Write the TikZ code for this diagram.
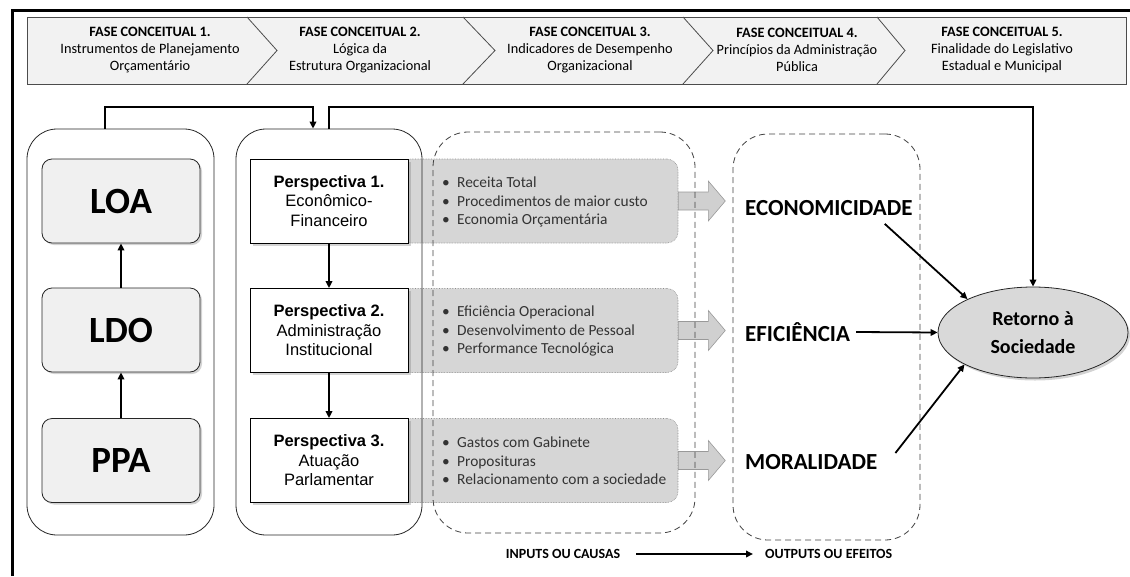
\documentclass[tikz,border=0pt]{standalone}
\usepackage{fontspec}
\setmainfont{Carlito}
\newfontfamily\arialf{Liberation Sans}
\usetikzlibrary{shadows,arrows.meta,shapes.geometric,calc}
\definecolor{hdrgray}{RGB}{242,242,242}
\definecolor{rowgray}{RGB}{214,214,214}
\definecolor{boxgray}{RGB}{240,240,240}
\definecolor{ellgray}{RGB}{217,217,217}
\definecolor{arrgray}{RGB}{208,208,208}
\begin{document}
\begin{tikzpicture}[x=1pt,y=-1pt,
  hdrtext/.style={align=center,font=\fontsize{14.3}{17}\selectfont,inner sep=0},
  lawbox/.style={draw=black!85,line width=0.8pt,rounded corners=10pt,fill=boxgray,minimum width=158pt,minimum height=84pt,
     font=\fontsize{37}{40}\selectfont\bfseries,drop shadow={shadow xshift=2pt,shadow yshift=-2pt,opacity=0.35}},
  perspbox/.style={draw=black,line width=0.8pt,fill=white,minimum width=158pt,minimum height=84pt,align=center,
     font=\arialf\fontsize{16.5}{19.5}\selectfont,drop shadow={shadow xshift=2.5pt,shadow yshift=-2.5pt,opacity=0.35}},
  container/.style={draw=black!85,line width=0.8pt,rounded corners=30pt},
  dashcont/.style={draw=black!75,line width=0.8pt,dash pattern=on 6pt off 4pt,rounded corners=35pt},
  rowbox/.style={draw=black!45,densely dotted,line width=0.6pt,fill=rowgray,rounded corners=11pt,minimum width=278pt,minimum height=84pt},
  rowtext/.style={anchor=west,align=left,inner sep=0,text=black!80,font=\fontsize{15.4}{18.3}\selectfont},
  blockarrow/.style={fill=arrgray,draw=black!40,line width=0.6pt},
  outlabel/.style={anchor=west,inner sep=0,font=\fontsize{23}{25}\selectfont\bfseries},
  conn/.style={draw=black,line width=1.8pt,-{Triangle[length=7pt,width=6.5pt]}},
  smallbold/.style={inner sep=0,font=\fontsize{14}{16}\selectfont\bfseries}
]
\useasboundingbox (0,0) rectangle (1130,576);
% outer frame (top and left edges)
\draw[line width=3pt] (12,576) -- (12,10) -- (1130,10);

% header band
\node[draw=black!70,line width=0.8pt,fill=hdrgray,minimum width=1099pt,minimum height=67pt,inner sep=0] (band) at (576.5,50.5) {};
\foreach \xa/\xb in {247/277,463/495,683/713,877/905}{
  \draw[black!70,line width=0.8pt] (\xa,17) -- (\xb,50.5) -- (\xa,84);
}
\node[hdrtext] (h1) at (150,50) {\textbf{FASE CONCEITUAL 1.}\\Instrumentos de Planejamento\\Orçamentário};
\node[hdrtext] (h2) at (360,50) {\textbf{FASE CONCEITUAL 2.}\\Lógica da\\Estrutura Organizacional};
\node[hdrtext] (h3) at (590,50) {\textbf{FASE CONCEITUAL 3.}\\Indicadores de Desempenho\\Organizacional};
\node[hdrtext] (h4) at (797,50) {\textbf{FASE CONCEITUAL 4.}\\Princípios da Administração\\Pública};
\node[hdrtext] (h5) at (1002,50) {\textbf{FASE CONCEITUAL 5.}\\Finalidade do Legislativo\\Estadual e Municipal};

% indicator rows (behind)
\node[rowbox] (g1) at (539,201) {};
\node[rowbox] (g2) at (539,330.5) {};
\node[rowbox] (g3) at (539,460.5) {};
\foreach \g in {g1,g2,g3}{
  \filldraw[blockarrow] ($(\g.east)+(0,-9)$) -- ++(30,0) -- ++(0,-11) -- ++(17,20) -- ++(-17,20) -- ++(0,-11) -- ++(-30,0) -- cycle;
}
\node[rowtext] (t1) at (442,202) {\makebox[15pt][l]{•}Receita Total\\\makebox[15pt][l]{•}Procedimentos de maior custo\\\makebox[15pt][l]{•}Economia Orçamentária};
\node[rowtext] (t2) at (442,331) {\makebox[15pt][l]{•}Eficiência Operacional\\\makebox[15pt][l]{•}Desenvolvimento de Pessoal\\\makebox[15pt][l]{•}Performance Tecnológica};
\node[rowtext] (t3) at (442,461) {\makebox[15pt][l]{•}Gastos com Gabinete\\\makebox[15pt][l]{•}Proposituras\\\makebox[15pt][l]{•}Relacionamento com a sociedade};

% containers
\node[container,minimum width=187pt,minimum height=406pt] (c1) at (120.5,332) {};
\node[container,minimum width=186pt,minimum height=406pt] (c2) at (329,332) {};
\node[dashcont,minimum width=262pt,minimum height=401pt] (cin) at (564,332.5) {};
\node[dashcont,minimum width=187pt,minimum height=406pt] (cout) at (826.5,337) {};

% law boxes
\node[lawbox] (loa) at (121,201) {LOA};
\node[lawbox] (ldo) at (121,330) {LDO};
\node[lawbox] (ppa) at (121,460.5) {PPA};
\draw[conn] (ldo) -- (loa);
\draw[conn] (ppa) -- (ldo);

% perspective boxes
\node[perspbox] (p1) at (329,201) {\textbf{Perspectiva 1.}\\Econômico-\\Financeiro};
\node[perspbox] (p2) at (329,330.5) {\textbf{Perspectiva 2.}\\Administração\\Institucional};
\node[perspbox] (p3) at (329,460.5) {\textbf{Perspectiva 3.}\\Atuação\\Parlamentar};
\draw[conn] (p1) -- (p2);
\draw[conn] (p2) -- (p3);

% outputs
\node[outlabel] (eco) at (745,208) {ECONOMICIDADE};
\node[outlabel] (efi) at (745,332) {EFICIÊNCIA};
\node[outlabel] (mor) at (745,462) {MORALIDADE};

\node[ellipse,draw=black!85,line width=0.8pt,fill=ellgray,minimum width=190pt,minimum height=91pt,align=center,
  font=\fontsize{20}{28}\selectfont\bfseries,drop shadow={shadow xshift=2pt,shadow yshift=-2.5pt,opacity=0.35}] (ret) at (1033,332.5) {Retorno à\\Sociedade};

\draw[conn] ($(eco.south east)+(-28,8)$) -- (ret.153);
\draw[conn] ($(efi.east)+(6,0)$) -- (ret.west);
\draw[conn] ($(mor.east)+(18,-9)$) -- (ret.205);

% top connectors
\draw[conn] ([xshift=-15.5pt]c1.north) -- ++(0,-22) -| ([xshift=-16pt]c2.north);
\draw[conn] (c2.north) -- ++(0,-22) -| (ret.north);

% bottom legend
\node[smallbold] (inp) at (563,554) {INPUTS OU CAUSAS};
\node[smallbold,anchor=west] (outp) at (765,554) {OUTPUTS OU EFEITOS};
\draw[conn] ($(inp.east)+(16,0)$) -- ($(outp.west)+(-12,0)$);
\end{tikzpicture}
\end{document}
